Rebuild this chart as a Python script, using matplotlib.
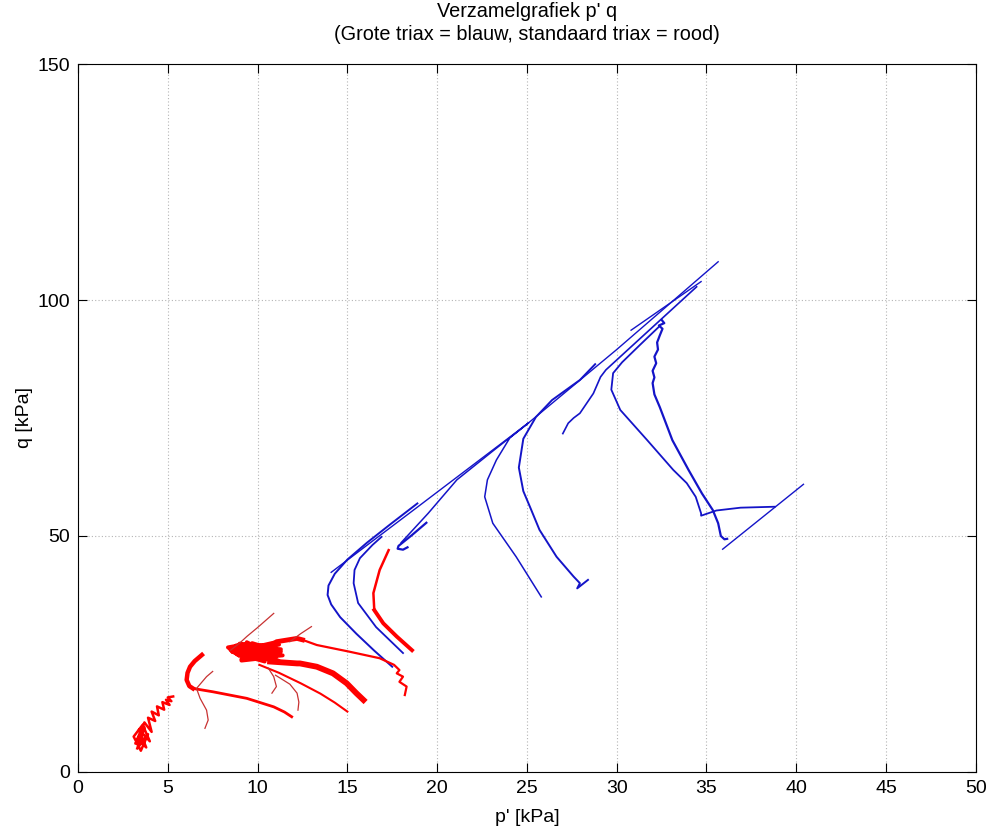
import numpy as np
import matplotlib.pyplot as plt

plt.rcParams['font.family'] = ['Liberation Sans', 'DejaVu Sans']

# Grote triax (blauw): p' en q in kPa
blauw_lijn_p = [14.1, 19.0, 25.1, 30.0, 35.65]
blauw_lijn_q = [42.3, 56.4, 74.0, 89.5, 108.1]

blauw1_p = [18.9, 17.4, 16.1, 15.0, 14.3, 13.95, 13.9, 14.1, 14.6, 15.5, 16.5, 17.5]
blauw1_q = [56.9, 52.5, 48.6, 45.0, 42.0, 39.5, 37.5, 35.5, 32.8, 29.3, 25.7, 22.3]

blauw2_p = [16.9, 16.4, 15.7, 15.4, 15.35, 15.6, 16.6, 18.1]
blauw2_q = [49.8, 48.1, 45.3, 42.8, 40.0, 35.8, 30.7, 25.2]

blauw3_haak_p = [19.4, 18.6, 17.85, 17.8, 18.1, 18.35]
blauw3_haak_q = [52.8, 50.2, 47.9, 47.3, 47.1, 47.6]
blauw3_p = [18.0, 19.5, 21.1, 23.1, 25.1, 24.05, 23.3, 22.8, 22.65, 23.1, 24.4, 25.8]
blauw3_q = [48.6, 54.8, 61.9, 68.0, 74.0, 70.8, 66.1, 61.9, 58.3, 52.7, 45.6, 37.1]

blauw4_p = [28.8, 27.95, 26.4, 25.5, 24.8, 24.55, 24.8, 25.2, 25.7, 26.65, 27.6, 27.95, 27.8, 28.4]
blauw4_q = [86.4, 83.05, 78.8, 75.2, 70.6, 64.5, 59.5, 55.9, 51.3, 45.6, 41.4, 40.0, 38.9, 40.7]

blauw5_p = [34.45, 29.4, 29.1, 28.7, 27.95, 27.6, 27.3, 27.0]
blauw5_q = [102.8, 85.2, 83.7, 80.2, 76.0, 75.0, 73.9, 71.7]

blauw6_p = [32.4, 31.3, 30.3, 29.8, 29.7, 30.2, 31.7, 33.15, 33.9, 34.4, 34.7, 34.7, 35.55, 36.9, 38.8]
blauw6_q = [94.5, 90.5, 86.8, 84.5, 81.0, 76.7, 70.3, 64.0, 61.2, 58.3, 54.8, 54.3, 55.4, 56.0, 56.2]

blauw7_p = [32.5, 32.65, 32.35, 32.55, 32.4, 32.25, 32.3, 32.1, 32.2, 32.0, 32.1, 32.0, 32.1, 32.4,
            33.1, 34.0, 34.75, 35.35, 35.65, 35.8, 36.0, 36.15]
blauw7_q = [95.8, 95.1, 94.6, 93.9, 92.5, 91.0, 89.5, 88.0, 86.6, 85.0, 83.6, 82.4, 80.0, 77.3,
            70.3, 64.0, 59.0, 55.5, 52.7, 50.0, 49.3, 49.4]

blauw_kort_p = [30.8, 34.7]
blauw_kort_q = [93.6, 103.9]

blauw8_p = [35.9, 40.4]
blauw8_q = [47.2, 60.95]

# Standaard triax (rood)
rood1_p = [3.3, 3.6, 3.2, 3.7, 3.4, 3.9, 3.5, 3.1, 3.6, 4.0, 3.4, 3.8, 3.3, 3.7, 4.1, 3.9,
           4.3, 4.1, 4.5, 4.4, 4.8, 4.7, 5.1, 4.9, 5.2, 5.0, 5.3]
rood1_q = [5.0, 8.5, 6.0, 9.5, 5.5, 8.0, 4.5, 7.5, 10.0, 6.5, 9.0, 5.2, 7.0, 10.5, 8.5, 11.5,
           10.8, 12.8, 12.0, 13.9, 13.2, 14.8, 14.2, 15.3, 15.0, 15.8, 16.0]

rood2_p = [6.9, 6.5, 6.24, 6.1, 6.05, 6.2, 6.4, 7.5, 9.4, 10.9, 11.5, 11.9]
rood2_q = [24.8, 23.5, 22.3, 21.0, 19.5, 18.2, 17.7, 17.0, 15.6, 13.8, 12.7, 11.7]

rood3_p = [7.5, 7.16, 6.6, 6.8, 7.16, 7.25, 7.07]
rood3_q = [21.3, 20.2, 17.7, 15.6, 13.1, 11.0, 9.25]

rood_kluwen_p = [9.2, 8.35, 9.0, 8.5, 11.0, 8.9, 11.2, 8.7, 10.8, 9.0, 11.1, 8.6, 10.9, 9.2, 11.3,
                 8.8, 10.6, 9.4, 11.0, 9.1, 10.7, 9.6, 11.2, 9.3, 10.5, 9.5, 11.4, 9.1, 10.9,
                 9.8, 11.3, 9.4, 10.4, 8.9, 11.0, 9.7, 10.8]
rood_kluwen_q = [27.0, 26.4, 24.6, 25.8, 26.2, 24.9, 27.0, 26.4, 24.6, 27.2, 25.1, 25.4, 27.4, 24.2,
                 26.0, 26.8, 23.8, 27.5, 24.4, 23.6, 26.6, 25.2, 23.5, 27.0, 24.0, 25.9, 24.7,
                 23.9, 27.1, 24.3, 25.5, 26.1, 23.4, 25.0, 25.8, 27.3, 24.8]

rood4a_p = [10.8, 11.06, 12.2, 12.5, 13.3, 15.1, 16.8, 17.6, 17.9, 17.75, 18.1, 17.9, 18.3, 18.2]
rood4a_q = [27.0, 27.6, 28.3, 28.0, 26.9, 25.5, 24.1, 22.7, 21.6, 20.9, 20.2, 19.1, 18.1, 16.3]

rood4b_p = [10.7, 12.2, 12.36, 13.3, 14.2, 14.96, 15.5, 15.9]
rood4b_q = [23.4, 23.0, 23.0, 22.3, 20.9, 18.8, 16.7, 15.25]

rood4c_p = [10.1, 11.2, 12.4, 13.5, 14.3, 15.0]
rood4c_q = [22.7, 21.0, 18.8, 16.6, 14.7, 12.8]

rood4d_p = [8.5, 9.0, 9.4, 10.0, 10.9]
rood4d_q = [25.8, 27.3, 28.7, 30.6, 33.6]

rood4e_p = [11.8, 12.4, 13.0]
rood4e_q = [27.6, 29.3, 30.8]

rood4f_p = [10.6, 10.9, 11.05, 10.8]
rood4f_q = [22.0, 20.2, 18.1, 16.7]

rood4g_p = [11.0, 11.8, 12.2, 12.3, 12.25]
rood4g_q = [20.5, 18.6, 16.7, 14.8, 13.1]

rood5_p = [17.3, 16.8, 16.45, 16.5, 17.0, 17.75, 18.6]
rood5_q = [47.0, 42.8, 37.9, 34.3, 31.5, 28.7, 25.8]

blauw = '#1414c8'
rood = '#ff0000'
donkerrood = '#c83232'

fig = plt.figure(figsize=(9.91, 8.26), dpi=100)
ax = fig.add_axes([0.0787, 0.0654, 0.906, 0.8571])

# blauwe paden
ax.plot(blauw_lijn_p, blauw_lijn_q, color=blauw, lw=1.0)
ax.plot(blauw1_p, blauw1_q, color=blauw, lw=1.4)
ax.plot(blauw2_p, blauw2_q, color=blauw, lw=1.3)
ax.plot(blauw3_haak_p, blauw3_haak_q, color=blauw, lw=1.6)
ax.plot(blauw3_p, blauw3_q, color=blauw, lw=1.1)
ax.plot(blauw4_p, blauw4_q, color=blauw, lw=1.4)
ax.plot(blauw5_p, blauw5_q, color=blauw, lw=1.2)
ax.plot(blauw6_p, blauw6_q, color=blauw, lw=1.3)
ax.plot(blauw7_p, blauw7_q, color=blauw, lw=1.6)
ax.plot(blauw_kort_p, blauw_kort_q, color=blauw, lw=1.0)
ax.plot(blauw8_p, blauw8_q, color=blauw, lw=1.0)

# rode paden
ax.plot(rood1_p, rood1_q, color=rood, lw=1.8)
ax.plot(rood2_p[:7], rood2_q[:7], color=rood, lw=3.2)
ax.plot(rood2_p[6:], rood2_q[6:], color=rood, lw=2.0)
ax.plot(rood3_p, rood3_q, color=donkerrood, lw=0.9)
ax.plot(rood_kluwen_p, rood_kluwen_q, color=rood, lw=2.8)
ax.plot(rood4a_p, rood4a_q, color=rood, lw=1.6)
ax.plot(rood4a_p[:4], rood4a_q[:4], color=rood, lw=3.5)
ax.plot(rood4b_p, rood4b_q, color=rood, lw=4.2)
ax.plot(rood4c_p, rood4c_q, color=rood, lw=1.5)
ax.plot(rood4d_p, rood4d_q, color=donkerrood, lw=0.9)
ax.plot(rood4e_p, rood4e_q, color=donkerrood, lw=0.9)
ax.plot(rood4f_p, rood4f_q, color=donkerrood, lw=0.9)
ax.plot(rood4g_p, rood4g_q, color=donkerrood, lw=0.9)
ax.plot(rood5_p[:4], rood5_q[:4], color=rood, lw=1.8)
ax.plot(rood5_p[3:], rood5_q[3:], color=rood, lw=2.8)

ax.set_xlim(0, 50)
ax.set_ylim(0, 150)
ax.set_xticks(np.arange(0, 51, 5))
ax.set_yticks([0, 50, 100, 150])
ax.grid(True, color='#b4b4b4', linestyle=(0, (1, 2)), lw=0.8)
ax.tick_params(direction='in', length=6.5, width=0.8, top=True, right=True, labelsize=14, pad=6)
for s in ax.spines.values():
    s.set_linewidth(0.8)

ax.set_xlabel("p' [kPa]", fontsize=14, labelpad=8.5)
ax.set_ylabel('q [kPa]', fontsize=14, labelpad=3)
ax.set_title("Verzamelgrafiek p' q\n(Grote triax = blauw, standaard triax = rood)", fontsize=14.3, pad=17,
             linespacing=1.27)

fig.savefig('out.png', dpi=100)
